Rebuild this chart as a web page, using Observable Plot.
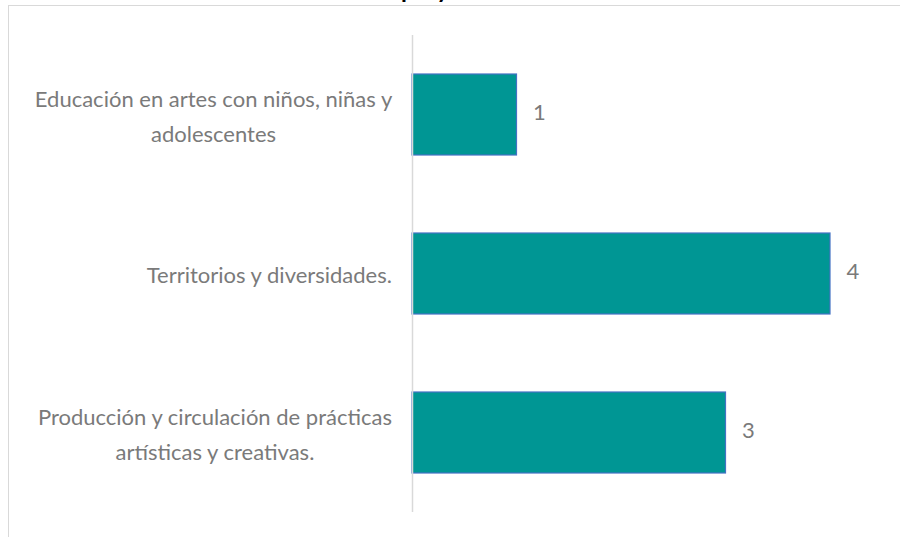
<!DOCTYPE html>
<html>
<head>
<meta charset="utf-8">
<script src="https://cdn.jsdelivr.net/npm/d3@7"></script>
<script src="https://cdn.jsdelivr.net/npm/@observablehq/plot@0.6"></script>
<style>
  html, body { margin: 0; padding: 0; background: #fff; }
  #wrap { position: relative; width: 900px; height: 537px; overflow: hidden; font-family: Lato, "Open Sans", sans-serif; }
  #frame { position: absolute; left: 8px; top: 5px; width: 1000px; height: 700px; border: 1.5px solid #d9d9d9; box-sizing: border-box; }
  #title { position: absolute; top: -23px; font-size: 24px; line-height: 24px; font-weight: bold; color: #000; white-space: nowrap; }
  #chart { position: absolute; left: 0; top: 0; }
</style>
</head>
<body>
<div id="wrap">
  <div id="frame"></div>
  <div id="title">Número de proyectos</div>
  <div id="chart"></div>
</div>
<script>
const categories = [
  "Educación en artes con niños, niñas y\nadolescentes",
  "Territorios y diversidades.",
  "Producción y circulación de prácticas\nartísticas y creativas."
];
const values = [1, 4, 3];
const xTicks = [0, 1, 2, 3, 4];

const data = categories.map((c, i) => ({cat: c, value: values[i]}));

const FONT_SIZE = 22;
const FONT = `${FONT_SIZE}px Lato`;
const ctx = document.createElement("canvas").getContext("2d");
ctx.font = FONT;

// place the title so that its "p" sits where the reference shows it
const titleEl = document.getElementById("title");
const tctx = document.createElement("canvas").getContext("2d");
tctx.font = "bold 24px Lato";
titleEl.style.left = (401 - tctx.measureText("Número de ").width) + "px";

const labelGap = 20;
const labelMarks = categories.map(c => {
  const lines = c.split("\n");
  const blockW = Math.max(...lines.map(l => ctx.measureText(l).width));
  return Plot.text([{cat: c}], {
    x: () => 0,
    y: "cat",
    text: "cat",
    textAnchor: "middle",
    dx: -(labelGap + blockW / 2),
    dy: -2,
    lineHeight: 1.58,
    fill: "#7a7a7a",
    fontSize: FONT_SIZE
  });
});

const chart = Plot.plot({
  width: 900,
  height: 537,
  marginLeft: 412,
  marginRight: 70,
  marginTop: 35,
  marginBottom: 25,
  style: {fontFamily: "Lato, sans-serif", background: "transparent"},
  x: {domain: [0, 4], axis: null},
  y: {domain: categories, paddingInner: 0.49, paddingOuter: 0.245, axis: null},
  marks: [
    Plot.barX(data, {x: "value", y: "cat", fill: "#009694", stroke: "#4472c4", strokeWidth: 1.2}),
    Plot.ruleX([0], {stroke: "#d9d9d9", strokeWidth: 1.5}),
    Plot.text(data, {x: "value", y: "cat", text: d => String(d.value), dx: 16, dy: -2, textAnchor: "start", fill: "#7a7a7a", fontSize: FONT_SIZE}),
    ...labelMarks
  ]
});
document.getElementById("chart").appendChild(chart);
</script>
</body>
</html>
